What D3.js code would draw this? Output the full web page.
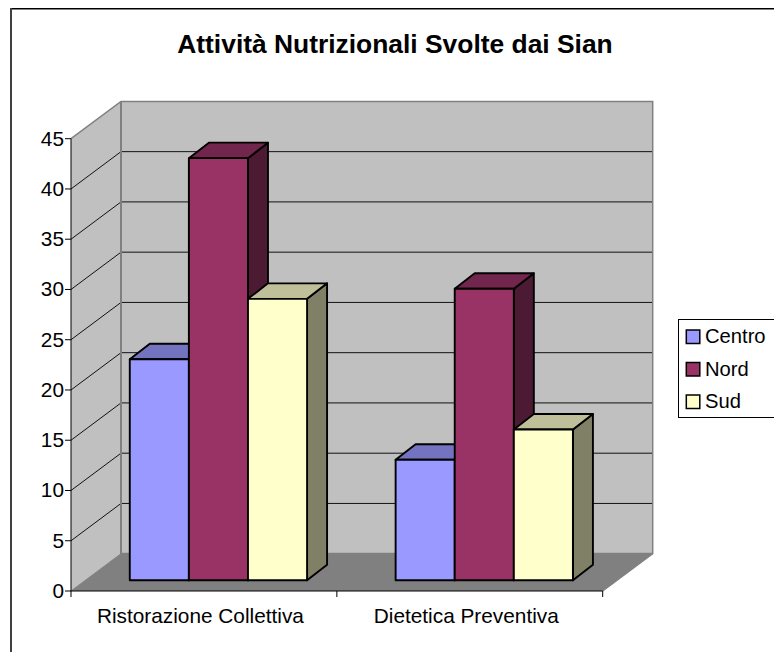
<!DOCTYPE html>
<html><head><meta charset="utf-8">
<script src="https://cdn.jsdelivr.net/npm/d3@7"></script>
<style>html,body{margin:0;padding:0;background:#fff;overflow:hidden}svg{display:block}text{font-family:"Liberation Sans",Arial,sans-serif;fill:#000}</style>
</head><body><svg id="c" width="774" height="652"></svg>
<script>
const title = "Attività Nutrizionali Svolte dai Sian";
const categories = ["Ristorazione Collettiva", "Dietetica Preventiva"];
const seriesNames = ["Centro", "Nord", "Sud"];
const centro = [22, 12];
const nord = [42, 29];
const sud = [28, 15];
const yTicks = [0, 5, 10, 15, 20, 25, 30, 35, 40, 45];
const colors = ["#9999ff", "#993366", "#ffffcc"];
const topColors = ["#7373bf", "#73264d", "#bfbf99"];
const sideColors = ["#4d4d80", "#4d1a33", "#808066"];

const seriesValues = [centro, nord, sud];
const svg = d3.select("#c");
const x = d3.scaleBand().domain(categories).range([71, 602.7]);
const y = d3.scaleLinear().domain([0, 45]).range([591, 138.7]);
const groupFrac = 177.3 / x.bandwidth();
const inner = d3.scaleBand().domain(seriesNames)
  .range([x.bandwidth() * (1 - groupFrac) / 2, x.bandwidth() * (1 + groupFrac) / 2]);
const D = {x: 50, y: -37.3};
const B = {x: 14.5, y: -10.7};
const BD = {x: 20, y: -15.5};
const pts = a => a.map(p => p.join(",")).join(" ");

svg.append("line").attr("x1",10).attr("x2",774).attr("y1",8.75).attr("y2",8.75).attr("stroke","#000").attr("stroke-width",1.5);
svg.append("line").attr("x1",11).attr("x2",11).attr("y1",8).attr("y2",652).attr("stroke","#404040").attr("stroke-width",2);

svg.append("text").attr("x",395).attr("y",53).attr("text-anchor","middle")
  .attr("font-size",26.4).attr("font-weight","bold").text(title);

const x0 = x.range()[0], x1 = x.range()[1], yb = y(0), yt = y(45);
svg.append("polygon").attr("points",pts([[x0,yb],[x0+D.x,yb+D.y],[x0+D.x,yt+D.y],[x0,yt]])).attr("fill","#c0c0c0");
svg.append("polygon").attr("points",pts([[x0+D.x,yb+D.y],[x1+D.x,yb+D.y],[x1+D.x,yt+D.y],[x0+D.x,yt+D.y]])).attr("fill","#c0c0c0");
svg.append("polygon").attr("points",pts([[x0,yb],[x1,yb],[x1+D.x,yb+D.y],[x0+D.x,yb+D.y]])).attr("fill","#808080");

yTicks.filter(t => t > 0 && t < 45).forEach(t => {
  svg.append("polyline").attr("fill","none").attr("stroke","#111").attr("stroke-width",1)
    .attr("points",pts([[x0,y(t)],[x0+D.x,y(t)+D.y],[x1+D.x,y(t)+D.y]]));
});
svg.append("polyline").attr("fill","none").attr("stroke","#808080").attr("stroke-width",1.5)
  .attr("points",pts([[x0,yt],[x0+D.x,yt+D.y],[x1+D.x,yt+D.y],[x1+D.x,yb+D.y],[x1,yb]]));
svg.append("polyline").attr("fill","none").attr("stroke","#808080").attr("stroke-width",2)
  .attr("points",pts([[x0+D.x,yt+D.y],[x0+D.x,yb+D.y],[x1+D.x,yb+D.y]]));
svg.append("line").attr("x1",x0).attr("y1",yb).attr("x2",x0+D.x).attr("y2",yb+D.y).attr("stroke","#808080");

svg.append("line").attr("x1",x0).attr("x2",x0).attr("y1",yt).attr("y2",yb).attr("stroke","#000");
svg.append("line").attr("x1",x0-0.5).attr("x2",x1).attr("y1",yb).attr("y2",yb).attr("stroke","#000");
yTicks.forEach(t => {
  svg.append("line").attr("x1",x0-6).attr("x2",x0).attr("y1",y(t)).attr("y2",y(t)).attr("stroke","#000");
  svg.append("text").attr("x",x0-7).attr("y",y(t)+7).attr("text-anchor","end").attr("font-size",20.8).text(t);
});
[x0, x(categories[1]), x1].forEach(v => {
  svg.append("line").attr("x1",v).attr("x2",v).attr("y1",yb).attr("y2",yb+6).attr("stroke","#000");
});
categories.forEach(c => {
  svg.append("text").attr("x",x(c)+x.bandwidth()/2-3.5).attr("y",623).attr("text-anchor","middle").attr("font-size",20.8).text(c);
});

categories.forEach((c, ci) => {
  seriesNames.forEach((s, si) => {
    const v = seriesValues[si][ci];
    const l = x(c) + inner(s) + B.x, r = l + inner.bandwidth();
    const b = y(0) + B.y, t = y(v) + B.y;
    const g = svg.append("g").attr("stroke","#000").attr("stroke-width",1.9).attr("stroke-linejoin","round");
    g.append("polygon").attr("fill",sideColors[si]).attr("points",pts([[r,t],[r+BD.x,t+BD.y],[r+BD.x,b+BD.y],[r,b]]));
    g.append("polygon").attr("fill",topColors[si]).attr("points",pts([[l,t],[l+BD.x,t+BD.y],[r+BD.x,t+BD.y],[r,t]]));
    g.append("rect").attr("x",l).attr("y",t).attr("width",r-l).attr("height",b-t).attr("fill",colors[si]);
  });
});

svg.append("rect").attr("x",678.5).attr("y",319.5).attr("width",110).attr("height",98).attr("fill","#fff").attr("stroke","#000");
const ly = d3.scalePoint().domain(seriesNames).range([336.5, 401.5]);
seriesNames.forEach((s, i) => {
  svg.append("rect").attr("x",686.3).attr("y",ly(s)-6.5).attr("width",13.5).attr("height",13.5)
    .attr("fill",colors[i]).attr("stroke","#000").attr("stroke-width",1.5);
  svg.append("text").attr("x",705).attr("y",ly(s)+6.5).attr("font-size",20.2).text(s);
});
</script></body></html>
